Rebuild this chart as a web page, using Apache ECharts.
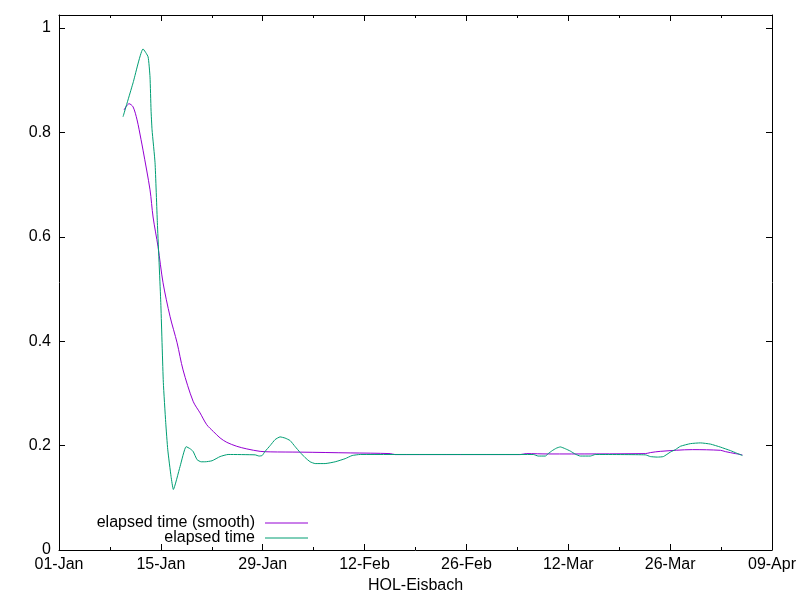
<!DOCTYPE html>
<html>
<head>
<meta charset="utf-8">
<script src="https://cdn.jsdelivr.net/npm/echarts@6/dist/echarts.min.js"></script>
<style>html,body{margin:0;padding:0;background:#fff}#c{width:800px;height:600px}</style>
</head>
<body>
<div id="c"></div>
<script>
// x values are days since 01-Jan
const xTickLabels = ['01-Jan','15-Jan','29-Jan','12-Feb','26-Feb','12-Mar','26-Mar','09-Apr'];
const xAxisTitle = 'HOL-Eisbach';
const seriesNames = ['elapsed time (smooth)', 'elapsed time'];
const seriesColors = ['#9400d3', '#009e73'];

const smoothDays = [8.94, 9.63, 10.18, 10.73, 11.28, 11.55, 12.51, 12.93, 13.61, 14.30, 15.27, 16.23, 17.05, 18.43, 19.39, 20.31, 21.22, 22.14, 23.06, 24.43, 25.81, 27.64, 29.02, 33.14, 40.02, 45.52, 46.2, 63.4, 64.22, 67.25, 80.59, 81.28, 82.65, 87.05, 90.92, 91.59, 92.97, 93.93];
const smoothValues = [0.843, 0.855, 0.849, 0.824, 0.786, 0.766, 0.690, 0.638, 0.581, 0.512, 0.447, 0.397, 0.345, 0.285, 0.2626, 0.240, 0.227, 0.2147, 0.2063, 0.1987, 0.1937, 0.189, 0.188, 0.1875, 0.186, 0.1847, 0.1828, 0.1828, 0.1847, 0.184, 0.1847, 0.1866, 0.189, 0.1923, 0.191, 0.1885, 0.1847, 0.1823];

const elapsedDays = [8.80, 10.18, 11.55, 12.24, 12.51, 12.65, 12.79, 13.20, 13.52, 13.99, 14.34, 14.67, 14.95, 15.40, 15.72, 16.64, 17.47, 18.02, 18.43, 18.98, 19.53, 20.08, 21.04, 22.14, 23.24, 26.96, 27.50, 27.92, 28.33, 29.02, 29.70, 30.39, 31.08, 31.77, 32.46, 33.14, 33.83, 34.52, 35.21, 36.58, 37.96, 39.33, 40.29, 41.40, 65.19, 65.87, 66.84, 67.25, 67.80, 68.35, 68.90, 69.59, 70.28, 70.96, 71.65, 73.03, 73.71, 80.59, 81.28, 82.24, 83.07, 84.03, 84.72, 85.41, 86.79, 88.16, 89.54, 90.92, 92.29, 93.12, 93.93];
const elapsedValues = [0.830, 0.895, 0.960, 0.945, 0.906, 0.843, 0.805, 0.742, 0.627, 0.474, 0.321, 0.244, 0.192, 0.141, 0.116, 0.160, 0.198, 0.194, 0.189, 0.173, 0.169, 0.169, 0.171, 0.179, 0.183, 0.1823, 0.180, 0.181, 0.189, 0.200, 0.2115, 0.2167, 0.2144, 0.2096, 0.198, 0.187, 0.177, 0.169, 0.1656, 0.1656, 0.169, 0.175, 0.181, 0.183, 0.183, 0.180, 0.180, 0.1847, 0.1904, 0.195, 0.1975, 0.194, 0.1895, 0.1837, 0.180, 0.180, 0.183, 0.1823, 0.179, 0.178, 0.179, 0.1876, 0.1923, 0.1987, 0.2038, 0.2052, 0.2029, 0.1971, 0.1904, 0.1856, 0.181];

const FONT = 'Liberation Sans, Arial, sans-serif';
const zip = (xs, ys) => xs.map((x, i) => [x, ys[i]]);

const chart = echarts.init(document.getElementById('c'), null, {renderer: 'canvas'});
const axisLineStyle = {show: true, onZero: false, lineStyle: {color: '#000', width: 1}};
const xCommon = {
  type: 'value', min: 0, max: 98, interval: 14,
  axisLine: axisLineStyle,
  axisTick: {show: true, inside: true, length: 6, lineStyle: {color: '#000'}},
  minorTick: {show: true, splitNumber: 2, length: 3, lineStyle: {color: '#000'}},
  splitLine: {show: false}
};
const yCommon = {
  type: 'value', min: 0, max: 1.025, interval: 0.2,
  axisLine: axisLineStyle,
  axisTick: {show: true, inside: true, length: 6, lineStyle: {color: '#000'}},
  splitLine: {show: false}
};

// key (legend) drawn as text + line sample, text right-aligned like the reference
const keyGraphics = [];
seriesNames.forEach((name, i) => {
  const cy = 522.5 + i * 15;
  keyGraphics.push({type: 'text', x: 255, y: cy, silent: true,
    style: {text: name, align: 'right', verticalAlign: 'middle', fill: '#000', font: '16px ' + FONT}});
  keyGraphics.push({type: 'line', silent: true,
    shape: {x1: 265, y1: cy + 0.5, x2: 308, y2: cy + 0.5},
    style: {stroke: seriesColors[i], lineWidth: 1}});
});

chart.setOption({
  animation: false,
  backgroundColor: '#fff',
  grid: {left: 59, right: 28, top: 15, bottom: 50, containLabel: false},
  legend: {show: false},
  xAxis: [
    Object.assign({}, xCommon, {
      position: 'bottom',
      name: xAxisTitle, nameLocation: 'middle', nameGap: 28,
      nameTextStyle: {color: '#000', fontSize: 16, fontFamily: FONT},
      axisLabel: {show: true, color: '#000', fontSize: 16, fontFamily: FONT, margin: 7,
        formatter: v => xTickLabels[Math.round(v / 14)] || ''}
    }),
    Object.assign({}, xCommon, {position: 'top', axisLabel: {show: false}})
  ],
  yAxis: [
    Object.assign({}, yCommon, {
      position: 'left',
      axisLabel: {show: true, color: '#000', fontSize: 16, fontFamily: FONT, margin: 8, showMaxLabel: false}
    }),
    Object.assign({}, yCommon, {position: 'right', axisLabel: {show: false}})
  ],
  graphic: keyGraphics,
  series: [
    {name: seriesNames[0], type: 'line', data: zip(smoothDays, smoothValues), symbol: 'none', smooth: 0.3,
     color: seriesColors[0], lineStyle: {color: seriesColors[0], width: 1}, xAxisIndex: 0, yAxisIndex: 0},
    {name: seriesNames[1], type: 'line', data: zip(elapsedDays, elapsedValues), symbol: 'none', smooth: 0.15,
     color: seriesColors[1], lineStyle: {color: seriesColors[1], width: 1}, xAxisIndex: 0, yAxisIndex: 0}
  ]
});
</script>
</body>
</html>
